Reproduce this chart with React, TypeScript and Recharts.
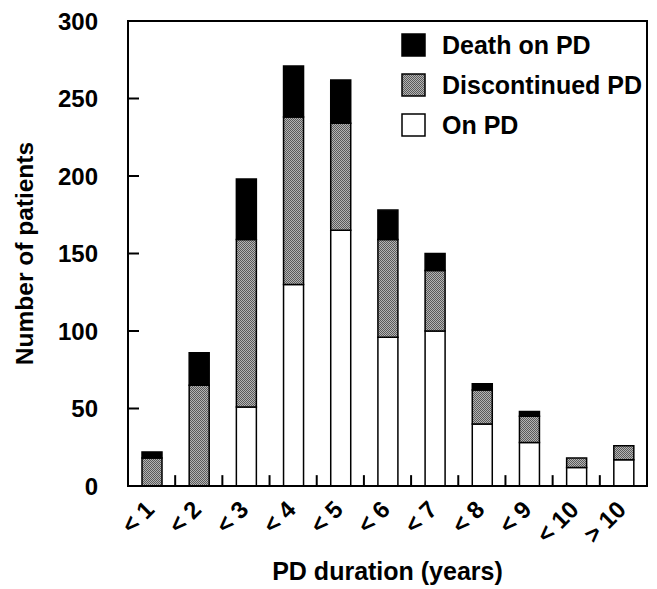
import { BarChart, Bar, XAxis, YAxis, Legend, ReferenceArea, ReferenceLine } from "recharts";

const categories = ["< 1", "< 2", "< 3", "< 4", "< 5", "< 6", "< 7", "< 8", "< 9", "< 10", "> 10"];
const onPd = [0, 0, 51, 130, 165, 96, 100, 40, 28, 12, 17];
const discontinued = [18, 65, 108, 108, 69, 63, 39, 22, 17, 6, 9];
const deathOnPd = [4, 21, 39, 33, 28, 19, 11, 4, 3, 0, 0];
const yTicks = [0, 50, 100, 150, 200, 250, 300];

const data = categories.map((name, i) => ({
  name,
  on: onPd[i],
  disc: discontinued[i],
  death: deathOnPd[i],
}));

const FONT = "'Liberation Sans', Arial, sans-serif";
const DOTS = "url(#dots)";
const DIVIDER_LEN = 7; // in y units, ~11px

// legend reads top-down, the reverse of the stack
const legendItems = [
  { label: "Death on PD", fill: "#000" },
  { label: "Discontinued PD", fill: DOTS },
  { label: "On PD", fill: "#fff" },
];

function XTick({ x, y, payload }: any) {
  const tx = x + 4;
  const ty = y + 25;
  return (
    <text
      x={tx}
      y={ty}
      transform={`rotate(-45, ${tx}, ${ty})`}
      textAnchor="end"
      fontSize={24}
      fontWeight="bold"
      fontFamily={FONT}
      fill="#000"
    >
      {payload.value}
    </text>
  );
}

function YTitle({ viewBox }: any) {
  const x = viewBox.x + 33;
  const y = viewBox.y + viewBox.height / 2;
  return (
    <text
      x={x}
      y={y}
      transform={`rotate(-90, ${x}, ${y})`}
      textAnchor="middle"
      fontSize={24.5}
      fontWeight="bold"
      fontFamily={FONT}
      fill="#000"
    >
      Number of patients
    </text>
  );
}

function LegendBox() {
  return (
    <div style={{ fontFamily: FONT }}>
      {legendItems.map((item) => (
        <div key={item.label} style={{ display: "flex", alignItems: "center", height: 40 }}>
          <svg width={25} height={24} style={{ marginRight: 16 }}>
            <rect x={1} y={1} width={23} height={22} fill={item.fill} stroke="#000" strokeWidth={1.5} />
          </svg>
          <span style={{ fontSize: 25, fontWeight: "bold", color: "#000", whiteSpace: "nowrap" }}>
            {item.label}
          </span>
        </div>
      ))}
    </div>
  );
}

export default function App() {
  return (
    <div style={{ position: "absolute", left: 0, top: 0, background: "#fff" }}>
      <BarChart
        width={657}
        height={589}
        data={data}
        margin={{ top: 21, right: 10, bottom: 0, left: 0 }}
      >
        <defs>
          <pattern id="dots" width={2} height={2} patternUnits="userSpaceOnUse">
            <rect width={2} height={2} fill="#b4b4b4" />
            <rect width={1} height={1} fill="#5a5a5a" />
            <rect x={1} y={1} width={1} height={1} fill="#5a5a5a" />
          </pattern>
        </defs>
        <XAxis
          dataKey="name"
          height={103}
          axisLine={{ stroke: "#000", strokeWidth: 2 }}
          tickLine={false}
          tickSize={0}
          tickMargin={0}
          interval={0}
          tick={<XTick />}
          label={{
            value: "PD duration (years)",
            position: "insideBottom",
            offset: 9,
            fontSize: 25,
            fontWeight: "bold",
            fontFamily: FONT,
            fill: "#000",
          }}
        />
        <YAxis
          domain={[0, 300]}
          ticks={yTicks}
          width={128}
          axisLine={{ stroke: "#000", strokeWidth: 2 }}
          tickLine={{ stroke: "#000", strokeWidth: 2 }}
          tickSize={-11}
          tickMargin={41}
          tick={{ fontSize: 24, fontWeight: "bold", fontFamily: FONT, fill: "#000" }}
          label={<YTitle />}
        />
        <ReferenceArea
          x1={categories[0]}
          x2={categories[categories.length - 1]}
          y1={0}
          y2={300}
          fill="none"
          fillOpacity={0}
          stroke="#000"
          strokeWidth={2}
          ifOverflow="visible"
        />
        {categories.slice(0, -1).map((c) => (
          <ReferenceLine
            key={c}
            segment={[
              { x: c, y: 0 },
              { x: c, y: DIVIDER_LEN },
            ]}
            position="end"
            stroke="#000"
            strokeWidth={2}
            ifOverflow="visible"
          />
        ))}
        <Legend
          layout="horizontal"
          verticalAlign="middle"
          wrapperStyle={{ left: 401, top: 25, width: 256 }}
          content={<LegendBox />}
        />
        <Bar dataKey="on" name="On PD" stackId="a" barSize={20} fill="#fff" stroke="#000" strokeWidth={1.5} isAnimationActive={false} />
        <Bar dataKey="disc" name="Discontinued PD" stackId="a" barSize={20} fill={DOTS} stroke="#000" strokeWidth={1.5} isAnimationActive={false} />
        <Bar dataKey="death" name="Death on PD" stackId="a" barSize={20} fill="#000" stroke="#000" strokeWidth={1.5} isAnimationActive={false} />
      </BarChart>
    </div>
  );
}
